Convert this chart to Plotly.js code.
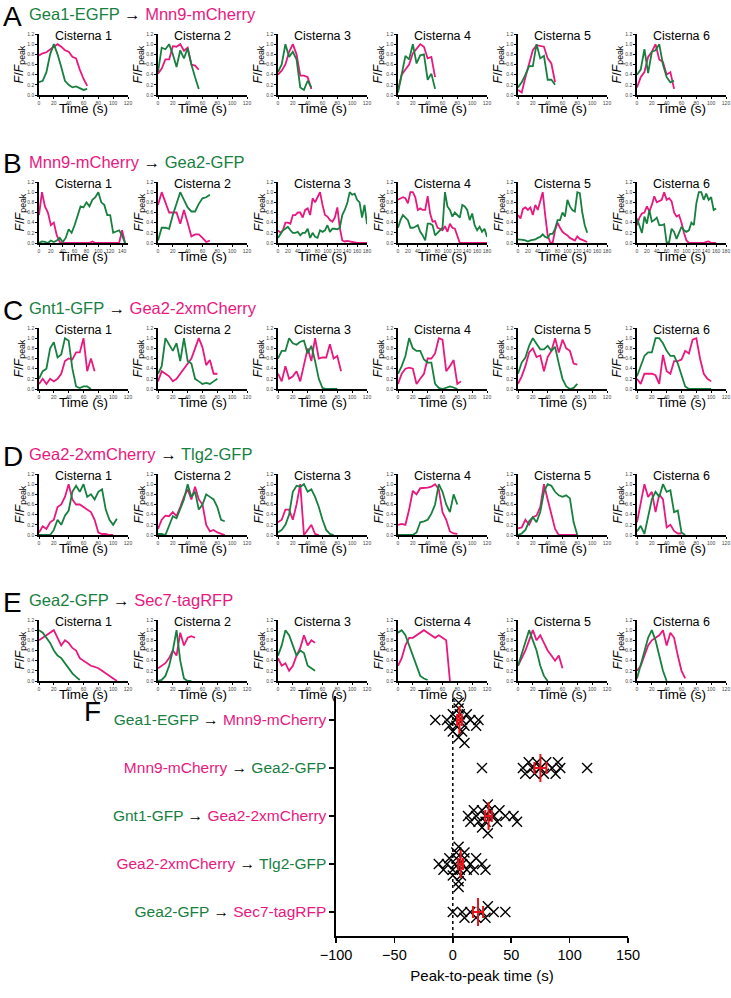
<!DOCTYPE html>
<html>
<head>
<meta charset="utf-8">
<script src="https://cdn.plot.ly/plotly-3.0.1.min.js"></script>
<style>body{margin:0;background:#fff}#chart{width:731px;height:998px}</style>
</head>
<body>
<div id="chart"></div>
<script>
var GREEN = '#17803f';
var MAGENTA = '#e8187f';

// ---- traces, one value every frame (5 s) ----
// Row A: Gea1-EGFP (green) -> Mnn9-mCherry (magenta)
var gea1A = [
  [0.25,0.28,0.45,0.8,1.0,0.8,0.55,0.28,0.2,0.15,0.17,0.14,0.1,0.12],
  [0.45,0.93,0.9,1.0,0.8,0.55,0.88,0.72,0.92,0.6,0.35,0.12],
  [0.45,0.6,1.0,0.75,0.85,0.7,0.15,0.1,0.28,0.15],
  [0.05,0.45,0.77,0.7,1.0,0.62,0.78,0.8,0.3,0.42,0.12],
  [0.15,0.25,0.4,0.57,0.57,1.0,0.72,0.77,0.3,0.3,0.2],
  [0.4,0.5,0.9,0.43,0.85,0.88,1.0,0.6,0.35,0.25,0.28]
];
var mnn9A = [
  [0.78,0.82,0.84,0.9,0.95,1.0,0.95,0.88,0.85,0.75,0.72,0.5,0.32,0.18],
  [0.42,0.52,0.7,0.7,0.96,0.95,1.0,0.87,0.93,0.6,0.58,0.5],
  [0.4,0.48,0.6,0.85,1.0,0.8,0.38,0.38,0.35,0.12],
  [0.1,0.4,0.5,0.6,0.82,0.9,1.0,0.95,0.72,0.75,0.35],
  [0.1,0.05,0.35,0.6,0.88,0.98,0.96,0.95,0.72,0.62,0.25],
  [0.15,0.35,0.45,0.75,0.85,1.0,0.7,0.65,0.4,0.45,0.12]
];
// Row B: Mnn9-mCherry (magenta) -> Gea2-GFP (green)
var mnn9B = [
  [0.55,1.0,0.72,0.6,0.35,0.4,0.15,0.02,0,0,0,0,0,0,0,0,0,0,0.03,0,0,0,0,0,0,0,0,0,0.25,0],
  [0.75,1.0,0.8,0.6,0.6,0.6,0.38,0.65,0.4,0.13,0.17,0.17,0.1,0.02,0.05],
  [0.25,0.2,0.25,0.4,0.4,0.38,0.55,0.55,0.6,0.6,0.5,0.65,0.68,0.55,0.88,0.8,0.9,1.0,0.75,0.55,0.52,0.45,0.42,0.5,0.7,0.3,0.05,0.03,0.04,0.03,0.02,0,0,0,0,0,0],
  [0.85,0.88,0.9,0.88,0.78,1.0,1.0,0.9,0.65,0.68,0.65,0.65,0.92,0.58,0.42,0.43,0.3,0.28,0.25,0.33,0.22,0.38,0.3,0.28,0.15,0,0,0,0,0,0,0,0,0,0,0,0],
  [0.55,0.48,0.67,0.7,0.65,0.7,0.55,0.75,0.65,0.85,1.0,0.55,0.15,0.02,0,0.25,0.4,0.3,0.22,0.18,0.15,0.1,0.08,0.05,0.13,0.08,0.06,0.04,0.02],
  [0.35,0.5,0.58,0.6,0.72,0.62,0.75,0.92,0.8,0.82,0.85,1.0,0.85,0.88,0.82,0.6,0.52,0.55,0.4,0.2,0.05,0,0,0,0,0,0,0,0.02,0.03,0,0,0]
];
var gea2B = [
  [0,0.03,0.02,0,0.05,0.02,0.05,0.1,0.02,0.1,0.27,0.2,0.35,0.55,0.72,0.7,0.8,0.72,0.85,0.9,1.0,0.8,0.75,0.55,0.55,0.2,0.22,0.25,0.15,0],
  [0.05,0.3,0.3,0.28,0.55,0.8,1.0,0.85,0.7,0.62,0.62,0.77,0.88,0.9,0.95],
  [0.1,0.18,0.25,0.28,0.32,0.25,0.2,0.2,0.22,0.15,0.2,0.2,0.28,0.1,0.2,0.12,0.1,0.25,0.22,0.25,0.35,0.22,0.28,0.28,0.27,0.3,0.55,0.65,0.78,1.0,0.95,0.97,0.85,0.8,0.5,0.75,0.37],
  [0.3,0.45,0.55,0.5,0.45,0.3,0.3,0.32,0.35,0.22,0.15,0.05,0.38,0.38,0.35,0.15,0.2,0.25,0.3,1.0,0.72,0.65,0.52,0.6,0.55,0.5,0.75,0.72,0.65,0.45,0.58,0.35,0.25,0.32,0.22,0.28,0.12],
  [0.07,0.07,0.06,0.05,0.03,0.05,0.06,0.07,0.1,0.12,0.17,0.12,0.1,0.18,0.18,0.28,0.45,0.45,0.6,0.52,0.85,0.72,0.65,0.62,1.0,0.98,0.6,0.35,0.2],
  [0.48,0.32,0.2,0.52,0.38,0.65,0.42,0.45,0.5,0.35,0.35,0.37,0,0.02,0.28,0.22,0.08,0.2,0.32,0.25,0.22,0.25,0.4,0.35,0.78,1.0,1.0,0.85,0.97,0.85,0.9,0.65,0.68]
];
// Row C: Gnt1-GFP (green) -> Gea2-2xmCherry (magenta)
var gnt1C = [
  [0.2,0.35,0.4,0.8,0.92,0.62,0.68,1.0,0.95,0.4,0.05,0.02,0.05,0.05,0],
  [0.3,0.45,1.0,0.87,0.75,0.9,0.55,1.0,0.55,0.5,0.2,0.15,0.1,0.12,0.1,0.15,0.2],
  [0.6,0.75,0.75,1.0,0.9,0.87,0.93,0.95,0.7,0.85,0.55,0.2,0.02,0,0,0,0],
  [0.3,0.45,0.65,1.0,0.8,0.75,0.75,0.58,0.52,0.52,0.1,0.02,0,0.02,0.05,0.03,0],
  [0.3,0.52,0.62,0.85,1.0,0.9,0.78,0.78,0.85,0.75,0.83,0.5,0.2,0.05,0,0.02,0.1],
  [0.25,0.45,0.65,0.72,0.72,1.0,1.0,0.9,0.75,0.65,0.65,0.5,0.25,0.05,0,0,0,0,0,0,0]
];
var gea2C = [
  [0.1,0.2,0.1,0.2,0.15,0.2,0.3,0.55,0.6,0.58,0.72,0.72,1.0,0.35,0.6,0.35],
  [0.15,0.35,0.3,0.25,0.15,0.2,0.3,0.4,0.5,0.6,0.8,1.0,0.82,0.47,0.57,0.3,0.3],
  [0.3,0.15,0.45,0.2,0.25,0.35,0.15,0.5,0.8,0.55,1.0,0.6,0.62,0.62,0.88,0.6,0.65,0.35],
  [0.1,0.3,0.4,0.42,0.4,0.1,0.2,0.3,0.6,0.6,0.7,1.0,0.97,0.35,0.45,0.57,0.1,0.15],
  [0.1,0.25,0.45,0.72,0.8,0.63,0.66,0.35,0.63,0.75,1.0,0.72,0.97,0.8,0.75,0.5,0.48],
  [0.2,0.1,0.3,0.3,0.3,0.27,0.1,0.67,0.35,0.3,0.55,0.55,0.58,0.75,0.7,0.97,1.0,0.6,0.3,0.2,0.15]
];
// Row D: Gea2-2xmCherry (magenta) -> Tlg2-GFP (green)
var gea2D = [
  [0.05,0.17,0.12,0.25,0.3,0.55,0.6,0.75,1.0,0.7,0.6,0.6,0.55,0.5,0.45,0.3,0.05,0.02,0.02,0,0],
  [0.12,0.3,0.38,0.37,0.45,0.37,0.55,0.75,0.9,0.7,0.95,0.7,0.6,0.2,0.07,0.1,0.05,0.03,0],
  [0.25,0.3,0.5,0.5,0.3,0.6,1.0,0,0.1,0.2,0.02,0],
  [0.2,0.22,0.2,0.5,0.87,0.8,0.92,0.92,0.93,0.95,1.0,0.9,0.45,0.3,0.07,0.03,0.02],
  [0.13,0.15,0.3,0.2,0.35,0.38,0.55,1.0,0.7,0.4,0.12,0,0,0,0,0,0],
  [0.25,0.65,1.0,0.75,0.85,0.45,0.8,0.7,0.15,0.2,0.08,0.03,0.03]
];
var tlg2D = [
  [0,0,0,0,0.1,0.3,0.2,0.38,0.48,0.85,0.97,0.85,1.0,0.75,0.8,0.7,0.85,0.9,0.5,0.3,0.2,0.32],
  [0.02,0.02,0,0.2,0.37,0.33,0.5,0.7,1.0,0.75,0.85,0.5,0.6,0.8,0.75,0.7,0.55,0.3,0.27],
  [0.05,0.1,0.2,0.4,0.85,0.97,0.95,1.0,0.85,0.9,0.75,0.55,0.3,0.1,0.02,0],
  [0,0,0,0,0,0.05,0.25,0.27,0.3,0.42,0.6,1.0,0.85,0.6,0.45,0.8,0.6],
  [0,0.03,0.1,0.27,0.35,0.25,0.45,0.85,1.0,0.97,0.85,0.78,0.75,0.78,0.72,0.25,0],
  [0.07,0.18,0.02,0.33,0.7,0.85,0.75,1.0,0.85,0.88,0.45,0.48,0.05,0]
];
// Row E: Gea2-GFP (green) -> Sec7-tagRFP (magenta)
var gea2E = [
  [1.0,0.95,0.85,0.75,0.6,0.5,0.45,0.35,0.25,0.15,0.08,0.02],
  [0,0.02,0.1,0.3,0.6,1.0,0.4,0.05,0,0],
  [0.5,0.7,1.0,0.9,0.7,0.5,0.6,0.55,0.3,0.25,0.2],
  [0.95,1.0,0.9,0.7,0.5,0.3,0.1,0.05,0.02],
  [0.3,0.55,0.8,1.0,0.8,0.6,0.3,0.1,0],
  [0.05,0.3,0.6,0.85,1.0,0.8,0.5,0.2,0]
];
var sec7E = [
  [0.8,0.85,0.9,0.95,1.0,0.85,0.7,0.8,0.75,0.65,0.6,0.45,0.4,0.35,0.3,0.28,0.25,0.2,0.15,0.1,0.05,0],
  [0.25,0.3,0.35,0.45,0.6,0.5,0.95,0.7,0.85,0.88,0.85],
  [0.45,0.3,0.35,0.2,0.3,0.5,0.65,0.9,0.7,0.8,0.75],
  [0.3,0.45,0.7,0.85,0.85,0.9,0.95,1.0,0.95,0.9,0.85,0.9,0.85,0.8,0],
  [0.3,0.45,0.6,0.8,1.0,0.8,0.9,0.75,0.6,0.5,0.4,0.5,0.25],
  [0.2,0.3,0.5,0.7,0.8,0.85,0.9,1.0,0.7,0.95,0.85,0.5,0.2,0.05]
];

var xmaxA = [120,120,120,120,120,120];
var xmaxB = [150,120,180,180,180,180];
var xmaxCDE = [120,120,120,120,120,120];

// ---- panel F: peak-to-peak times (s) ----
var pairNames = [
  ['Gea1-EGFP','Mnn9-mCherry'],
  ['Mnn9-mCherry','Gea2-GFP'],
  ['Gnt1-GFP','Gea2-2xmCherry'],
  ['Gea2-2xmCherry','Tlg2-GFP'],
  ['Gea2-GFP','Sec7-tagRFP']
];
var pairColors = [[GREEN,MAGENTA],[MAGENTA,GREEN],[GREEN,MAGENTA],[MAGENTA,GREEN],[GREEN,MAGENTA]];
var peakGea1Mnn9 = [-15,-5,-3,0,0,2,3,5,5,5,6,8,8,10,10,12,15,20,22];
var peakMnn9Gea2 = [25,60,62,65,68,70,72,75,78,80,85,88,90,92,115];
var peakGnt1Gea2 = [13,15,18,20,22,25,25,28,28,30,30,32,35,38,40,45,52,55];
var peakGea2Tlg2 = [-12,-8,-5,-3,0,0,2,3,3,5,5,5,6,7,8,10,10,12,15,18,20,25,28];
var peakGea2Sec7 = [0,8,10,15,20,25,28,30,35,45];

var rows = [
  {letter:'A', green:gea1A, magenta:mnn9A, xmax:xmaxA},
  {letter:'B', green:gea2B, magenta:mnn9B, xmax:xmaxB},
  {letter:'C', green:gnt1C, magenta:gea2C, xmax:xmaxCDE},
  {letter:'D', green:tlg2D, magenta:gea2D, xmax:xmaxCDE},
  {letter:'E', green:gea2E, magenta:sec7E, xmax:xmaxCDE}
];

// ---- geometry (pixels) ----
var W = 731, H = 998;
var COL_LEFT = [39,158,278,398,518,637];
var ROW_TOP = [34,182,328,474,620];
var PW = 89, PH = 61;
function px(x) { return x / W; }
function py(y) { return 1 - y / H; }

var FONT = 'Arial, "Liberation Sans", sans-serif';
var data = [];
var layout = {
  width: W, height: H,
  margin: {l:0, r:0, t:0, b:0},
  paper_bgcolor: '#fff', plot_bgcolor: '#fff',
  showlegend: false,
  font: {family: FONT, color: '#000'},
  annotations: [],
  shapes: []
};

function pairLabel(i) {
  return '<span style="color:' + pairColors[i][0] + '">' + pairNames[i][0] + '</span> \u2192 ' +
         '<span style="color:' + pairColors[i][1] + '">' + pairNames[i][1] + '</span>';
}

function note(text, x, y, size, extra) {
  var a = {text: text, x: px(x), y: py(y), xref: 'paper', yref: 'paper', showarrow: false,
    xanchor: 'center', yanchor: 'middle', font: {size: size}};
  for (var k in extra) a[k] = extra[k];
  layout.annotations.push(a);
}

var smallTicks = {size: 5, color: '#444'};
var n = 0;
rows.forEach(function (row, r) {
  var top = ROW_TOP[r];
  // row heading
  note(row.letter, 1, top - 18, 28, {xanchor: 'left'});
  note(pairLabel(r), 27, top - 20, 16.5, {xanchor: 'left'});

  for (var c = 0; c < 6; c++) {
    n++;
    var s = n === 1 ? '' : n;
    var left = COL_LEFT[c];
    layout['xaxis' + s] = {
      domain: [px(left), px(left + PW)], anchor: 'y' + s,
      range: [0, row.xmax[c]], tick0: 0, dtick: 20, tickangle: 0,
      showline: true, linewidth: 1.8, linecolor: '#000', mirror: false,
      ticks: 'outside', ticklen: 2, tickwidth: 1, tickcolor: '#000',
      showgrid: false, zeroline: false, fixedrange: true,
      tickfont: smallTicks
    };
    layout['yaxis' + s] = {
      domain: [py(top + PH), py(top)], anchor: 'x' + s,
      range: [0, 1.2], tick0: 0, dtick: 0.2, tickformat: '.1f',
      showline: true, linewidth: 1.8, linecolor: '#000',
      ticks: 'outside', ticklen: 2, tickwidth: 1, tickcolor: '#000',
      showgrid: false, zeroline: false, fixedrange: true,
      tickfont: smallTicks
    };
    data.push({
      y: row.magenta[c], x0: 0, dx: 5, type: 'scatter', mode: 'lines',
      xaxis: 'x' + s, yaxis: 'y' + s, line: {color: MAGENTA, width: 1.8}, hoverinfo: 'skip'
    });
    data.push({
      y: row.green[c], x0: 0, dx: 5, type: 'scatter', mode: 'lines',
      xaxis: 'x' + s, yaxis: 'y' + s, line: {color: GREEN, width: 1.8}, hoverinfo: 'skip'
    });
    // panel texts
    note('Cisterna ' + (c + 1), left + PW / 2, top + 2, 12.5);
    note('<i>F</i>/<i>F</i><sub>peak</sub>', left - 19, top + PH / 2, 12.5, {textangle: -90});
    note('Time (s)', left + PW / 2, top + PH + 13, 13.5);
  }
});

// ---- panel F ----
var fs = 31;
var F_LEFT = 336, F_RIGHT = 628, F_TOP = 696, F_BOTTOM = 936;
var peakSets = [peakGea1Mnn9, peakMnn9Gea2, peakGnt1Gea2, peakGea2Tlg2, peakGea2Sec7];

// simple swarm: spread marks that would sit on top of each other
function swarm(vals, gap, step) {
  var sorted = vals.slice().sort(function (a, b) { return a - b; });
  var placed = [];
  return sorted.map(function (v) {
    var k = 0, off = 0;
    while (true) {
      off = (k === 0) ? 0 : (k % 2 ? 1 : -1) * Math.ceil(k / 2) * step;
      var clash = placed.some(function (p) { return Math.abs(p.v - v) < gap && Math.abs(p.off - off) < step * 0.5; });
      if (!clash) break;
      k++;
    }
    placed.push({v: v, off: off});
    return {v: v, off: off};
  });
}

peakSets.forEach(function (vals, i) {
  var pts = swarm(vals, 6, 0.12);
  data.push({
    x: pts.map(function (p) { return p.v; }),
    y: pts.map(function (p) { return i + p.off; }),
    type: 'scatter', mode: 'markers', xaxis: 'x' + fs, yaxis: 'y' + fs, hoverinfo: 'skip',
    marker: {symbol: 'x-thin-open', size: 10, color: '#000', line: {width: 1.4, color: '#000'}}
  });
  var mean = vals.reduce(function (a, b) { return a + b; }, 0) / vals.length;
  var sd = Math.sqrt(vals.reduce(function (a, b) { return a + (b - mean) * (b - mean); }, 0) / (vals.length - 1));
  var sem = sd / Math.sqrt(vals.length);
  data.push({
    x: [mean], y: [i], type: 'scatter', mode: 'markers', xaxis: 'x' + fs, yaxis: 'y' + fs, hoverinfo: 'skip',
    marker: {symbol: 'line-ns', size: 20, color: '#e8141c', line: {width: 2, color: '#e8141c'}},
    error_x: {type: 'data', array: [sem], visible: true, color: '#e8141c', thickness: 2, width: 6}
  });
});

layout['xaxis' + fs] = {
  domain: [px(F_LEFT), px(F_RIGHT)], anchor: 'y' + fs,
  range: [-100, 150], tick0: -100, dtick: 50,
  showline: true, linewidth: 1.6, linecolor: '#000',
  ticks: 'outside', ticklen: 5, tickwidth: 1.5, tickcolor: '#000',
  showgrid: false, zeroline: false, fixedrange: true,
  tickfont: {size: 14.5},
  title: {text: 'Peak-to-peak time (s)', font: {size: 15}, standoff: 8}
};
layout['yaxis' + fs] = {
  domain: [py(F_BOTTOM), py(F_TOP)], anchor: 'x' + fs,
  range: [4.5, -0.5], tickvals: [0, 1, 2, 3, 4],
  ticktext: [0, 1, 2, 3, 4].map(pairLabel),
  showline: true, linewidth: 1.6, linecolor: '#000',
  ticks: 'outside', ticklen: 5, tickwidth: 1.5, tickcolor: '#000',
  showgrid: false, zeroline: false, fixedrange: true,
  tickfont: {size: 15.5}
};
layout.shapes.push({type: 'line', xref: 'x' + fs, yref: 'y' + fs + ' domain', x0: 0, x1: 0, y0: 0, y1: 1,
  line: {color: '#000', width: 1.5, dash: 'dot'}, layer: 'below'});
note('F', 82, 711, 28, {xanchor: 'left'});

Plotly.newPlot('chart', data, layout, {staticPlot: true});
</script>
</body>
</html>
